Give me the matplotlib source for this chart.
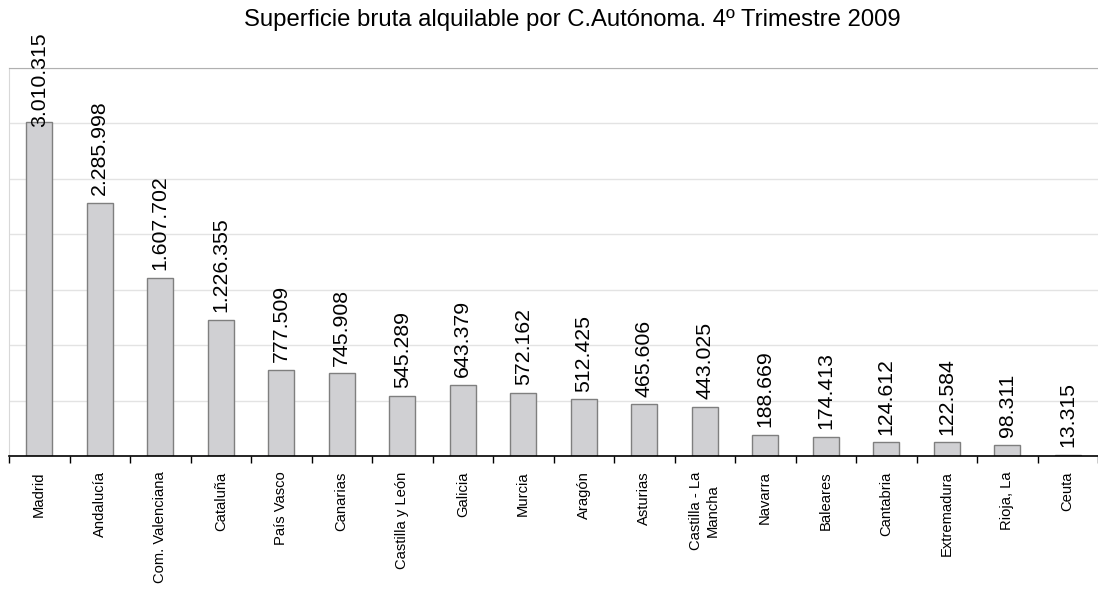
import numpy as np
import matplotlib.pyplot as plt

plt.rcParams['font.family'] = ['Liberation Sans', 'DejaVu Sans']

regiones = ['Madrid', 'Andalucía', 'Com. Valenciana', 'Cataluña', 'País Vasco',
            'Canarias', 'Castilla y León', 'Galicia', 'Murcia', 'Aragón',
            'Asturias', 'Castilla - La\nMancha', 'Navarra', 'Baleares',
            'Cantabria', 'Extremadura', 'Rioja, La', 'Ceuta']
superficie = [3010315, 2285998, 1607702, 1226355, 777509, 745908, 545289,
              643379, 572162, 512425, 465606, 443025, 188669, 174413,
              124612, 122584, 98311, 13315]


def fmt_es(v):
    # separador de miles con punto
    return '{:,}'.format(v).replace(',', '.')


fig = plt.figure(figsize=(10.98, 5.93), dpi=100)
ax = fig.add_axes([9 / 1098, (593 - 456) / 593, 1 - 9 / 1098, (456 - 68) / 593])

x = np.arange(len(regiones))
ax.bar(x, superficie, width=0.43, color='#d0d0d3', edgecolor='#7f7f7f',
       linewidth=1.0, zorder=3)

ax.set_xlim(-0.5, len(regiones) - 0.5)
ax.set_ylim(0, 3500000)
ax.set_yticks(np.arange(0, 3500001, 500000))
ax.yaxis.grid(True, color='#e3e3e3', linewidth=1.0, zorder=0)
ax.tick_params(axis='y', length=0, labelleft=False)

# marcas entre categorias
ax.set_xticks(np.arange(-0.5, len(regiones), 1.0), minor=True)
ax.set_xticks(x)
ax.set_xticklabels(regiones, rotation=90, fontsize=10.6, va='top',
                   ha='center', linespacing=1.25)
ax.tick_params(axis='x', which='major', length=0, pad=11)
ax.tick_params(axis='x', which='minor', length=5, width=1.0, color='black')

ax.spines['right'].set_visible(False)
ax.spines['top'].set_color('#b0b0b0')
ax.spines['left'].set_color('#d8d8d8')
ax.spines['bottom'].set_color('black')
ax.spines['bottom'].set_linewidth(1.2)
ax.spines['bottom'].set_zorder(4)

for xi, v in zip(x, superficie):
    if v > 2800000:
        # no cabe encima: se pega al borde superior
        ax.annotate(fmt_es(v), (xi, 1.0), xycoords=('data', 'axes fraction'),
                    xytext=(0, 26), textcoords='offset points',
                    rotation=90, ha='center', va='top', fontsize=15.3)
    else:
        ax.annotate(fmt_es(v), (xi, v), xytext=(0, 5.5),
                    textcoords='offset points', rotation=90,
                    ha='center', va='bottom', fontsize=15.3)

fig.text(0.521, 0.985, 'Superficie bruta alquilable por C.Autónoma. 4º Trimestre 2009',
         ha='center', va='top', fontsize=17.2)

fig.savefig('out.png', dpi=100)
